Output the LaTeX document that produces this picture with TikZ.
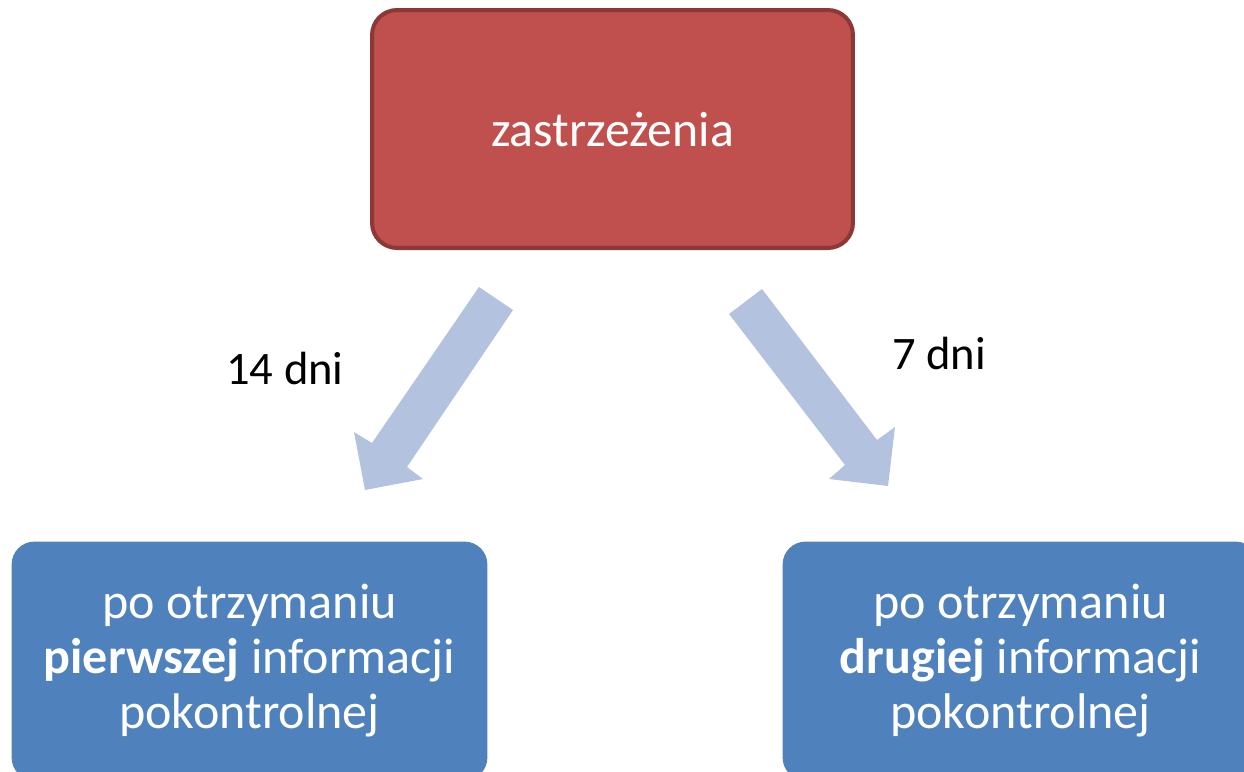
\documentclass[tikz,border=0pt]{standalone}
\usepackage{fontspec}
\setmainfont{Carlito}
\definecolor{redfill}{HTML}{C0504D}
\definecolor{redline}{HTML}{8C3836}
\definecolor{bluefill}{HTML}{4F81BD}
\definecolor{arrowfill}{HTML}{B3C2DE}
\begin{document}
\begin{tikzpicture}[x=0.02cm,y=-0.02cm,
  redbox/.style={fill=redfill, draw=redline, line width=2.3pt, rounded corners=0.5cm,
    minimum width=9.62cm, minimum height=4.76cm, text=white, align=center,
    font=\fontsize{28.3}{31}\selectfont},
  bluebox/.style={fill=bluefill, draw=bluefill, line width=0.5pt, rounded corners=0.45cm,
    minimum width=9.5cm, minimum height=4.76cm, text=white, align=center,
    font=\fontsize{28.5}{31.3}\selectfont},
  blockarrow/.style={fill=arrowfill, draw=none},
  lbl/.style={text=black, font=\fontsize{26.5}{30}\selectfont}]
\useasboundingbox (0,0) rectangle (1244,771);
\node[redbox] (top) at (612.5,129) {zastrzeżenia};
\node[bluebox] (left) at (249.5,661) {po otrzymaniu\\\textbf{pierwszej} informacji\\pokontrolnej};
\node[bluebox] (right) at (1020.5,661) {po otrzymaniu\\\textbf{drugiej} informacji\\pokontrolnej};
\path[blockarrow] (479,287) -- (513,310) -- (407,467) -- (423,479) -- (365,490) -- (354,432) -- (372,443) -- cycle;
\path[blockarrow] (729,314) -- (762,289) -- (877,440) -- (895,427) -- (888,486) -- (829,479) -- (845,465) -- cycle;
\node[lbl] (l14) at (285,368) {14 dni};
\node[lbl] (l7) at (939,353) {7 dni};
\end{tikzpicture}
\end{document}
